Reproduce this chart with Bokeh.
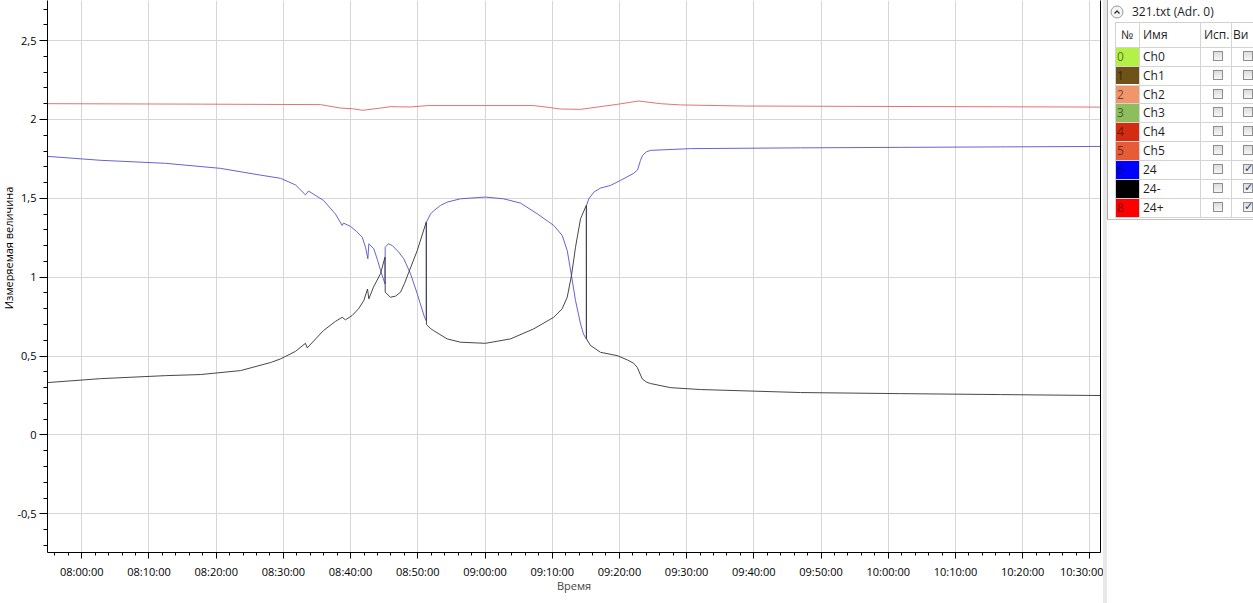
import pandas as pd
from bokeh.plotting import figure
from bokeh.models import (FixedTicker, DatetimeTickFormatter, CustomJSTickFormatter,
                          Range1d, LinearAxis, Div, ColumnDataSource)
from bokeh.layouts import row
from bokeh.embed import file_html
from bokeh.resources import INLINE

DAY = "2020-01-01 "

# ---- series "24" (blue) ----
blue_time = ["07:54:54", "08:02:47", "08:12:27", "08:20:38", "08:26:36", "08:29:34", "08:31:48",
             "08:33:17", "08:33:44", "08:35:58", "08:37:45", "08:38:45", "08:38:57", "08:39:59",
             "08:40:53", "08:41:44", "08:42:13", "08:42:34", "08:42:43", "08:43:27", "08:44:00",
             "08:44:27", "08:45:07", "08:45:09", "08:45:38", "08:46:14", "08:47:08", "08:47:55",
             "08:48:55", "08:49:55", "08:51:00", "08:51:15", "08:51:17", "08:51:53", "08:52:20",
             "08:53:23", "08:54:22", "08:56:21", "09:00:04", "09:02:45", "09:05:17", "09:07:46",
             "09:10:14", "09:11:29", "09:12:14", "09:12:52", "09:13:28", "09:14:13", "09:14:39",
             "09:15:04", "09:15:06", "09:15:27", "09:16:11", "09:17:11", "09:18:41", "09:20:10",
             "09:22:06", "09:22:42", "09:23:08", "09:23:26", "09:24:02", "09:24:38", "09:30:35",
             "09:46:57", "10:01:50", "10:16:43", "10:31:36"]
blue_value = [1.766, 1.741, 1.722, 1.690, 1.647, 1.627, 1.585,
              1.522, 1.546, 1.487, 1.400, 1.328, 1.343, 1.322,
              1.290, 1.254, 1.190, 1.117, 1.212, 1.180, 1.110,
              1.043, 0.958, 1.190, 1.212, 1.200, 1.160, 1.117,
              1.022, 0.895, 0.746, 0.725, 1.349, 1.400, 1.420,
              1.455, 1.476, 1.497, 1.508, 1.497, 1.470, 1.402,
              1.328, 1.265, 1.169, 1.011, 0.852, 0.704, 0.640,
              0.609, 1.455, 1.497, 1.539, 1.565, 1.582, 1.614,
              1.658, 1.680, 1.740, 1.772, 1.795, 1.804, 1.815,
              1.820, 1.823, 1.826, 1.829]

# ---- series "24-" (black) ----
black_time = ["07:54:54", "08:02:47", "08:12:27", "08:17:40", "08:23:37", "08:28:05", "08:29:34",
              "08:31:48", "08:33:17", "08:33:33", "08:35:58", "08:37:45", "08:38:45", "08:39:14",
              "08:40:14", "08:41:11", "08:41:58", "08:42:31", "08:42:43", "08:43:24", "08:44:27",
              "08:45:07", "08:45:09", "08:45:56", "08:46:41", "08:47:26", "08:48:01", "08:48:40",
              "08:49:55", "08:51:15", "08:51:17", "08:51:53", "08:52:20", "08:54:22", "08:56:21",
              "09:00:04", "09:03:48", "09:07:16", "09:10:14", "09:11:29", "09:12:14", "09:12:52",
              "09:13:28", "09:14:13", "09:15:04", "09:15:06", "09:15:42", "09:17:11", "09:19:40",
              "09:21:10", "09:22:06", "09:22:39", "09:23:24", "09:24:02", "09:24:38", "09:27:36",
              "09:32:04", "09:46:57", "10:01:50", "10:16:43", "10:31:36"]
black_value = [0.332, 0.357, 0.376, 0.383, 0.408, 0.459, 0.482,
               0.530, 0.581, 0.552, 0.662, 0.720, 0.746, 0.730,
               0.757, 0.800, 0.852, 0.925, 0.863, 0.937, 1.022,
               1.127, 0.905, 0.873, 0.880, 0.905, 0.960, 1.032,
               1.169, 1.349, 0.700, 0.675, 0.662, 0.609, 0.588,
               0.581, 0.609, 0.673, 0.746, 0.800, 0.873, 1.011,
               1.190, 1.371, 1.455, 0.609, 0.567, 0.524, 0.503,
               0.476, 0.455, 0.429, 0.355, 0.335, 0.326, 0.300,
               0.288, 0.269, 0.262, 0.256, 0.250]

# ---- series "24+" (red) ----
red_time = ["07:54:54", "08:17:40", "08:35:31", "08:38:30", "08:40:17", "08:41:46", "08:44:27",
            "08:45:56", "08:48:55", "08:51:27", "09:07:13", "09:09:45", "09:11:14", "09:14:13",
            "09:19:43", "09:22:51", "09:26:07", "09:29:06", "09:38:46", "10:01:50", "10:27:52",
            "10:31:36"]
red_value = [2.100, 2.097, 2.094, 2.072, 2.068, 2.058, 2.072,
             2.081, 2.079, 2.088, 2.088, 2.075, 2.066, 2.064,
             2.096, 2.117, 2.100, 2.092, 2.085, 2.082, 2.079,
             2.078]

x_tick_times = ["08:00:00", "08:10:00", "08:20:00", "08:30:00", "08:40:00", "08:50:00",
                "09:00:00", "09:10:00", "09:20:00", "09:30:00", "09:40:00", "09:50:00",
                "10:00:00", "10:10:00", "10:20:00", "10:30:00"]
y_ticks = [-0.5, 0, 0.5, 1, 1.5, 2, 2.5]

x_label = "Время"
y_label = "Измеряемая величина"

channel_nums = ["0", "1", "2", "3", "4", "5", "6", "7", "8"]
channel_names = ["Ch0", "Ch1", "Ch2", "Ch3", "Ch4", "Ch5", "24", "24-", "24+"]
channel_colors = ["#b4f046", "#6e5218", "#f0956c", "#8dbd5c", "#d32c12", "#e65c36",
                  "#0000ff", "#000000", "#ff0000"]
channel_visible = [False, False, False, False, False, False, True, True, True]
panel_title = "321.txt (Adr. 0)"
col_headers = ["№", "Имя", "Исп.", "Ви"]


def ts(s):
    return pd.Timestamp(DAY + s)


def ms(s):
    return ts(s).value // 10**6


FONT = "Open Sans"

p = figure(width=1089, height=603, x_axis_type="datetime",
           x_range=Range1d(ts("07:54:54"), ts("10:31:35")),
           y_range=Range1d(-0.745, 2.754),
           output_backend="svg", toolbar_location=None,
           min_border_left=33, min_border_right=3, min_border_top=0, min_border_bottom=51)
p.outline_line_color = None
p.background_fill_color = "white"
p.border_fill_color = "white"

major_x = [ms(t) for t in x_tick_times]
minor_x = [m + k * 120000 for m in [ms("07:50:00")] + major_x for k in range(1, 5)]
p.xaxis.ticker = FixedTicker(ticks=major_x, minor_ticks=minor_x)
fmt = "%H:%M:%S"
p.xaxis.formatter = DatetimeTickFormatter(milliseconds=fmt, seconds=fmt, minsec=fmt, minutes=fmt,
                                          hourmin=fmt, hours=fmt, days=fmt, months=fmt, years=fmt)
minor_y = [round(-0.8 + 0.1 * i, 2) for i in range(37)]
p.yaxis.ticker = FixedTicker(ticks=y_ticks, minor_ticks=minor_y)
p.yaxis.formatter = CustomJSTickFormatter(code="return String(tick).replace('.', ',');")

for ax in (p.xaxis[0], p.yaxis[0]):
    ax.axis_line_color = "black"
    ax.major_tick_line_color = "black"
    ax.minor_tick_line_color = "black"
    ax.major_tick_in = 0
    ax.minor_tick_in = 0
    ax.major_label_text_font = FONT
    ax.major_label_text_font_size = "11px"
    ax.major_label_text_color = "black"

p.xaxis.major_tick_out = 6
p.xaxis.minor_tick_out = 3
p.xaxis.major_label_standoff = 5
p.xaxis.axis_label = x_label
p.xaxis.axis_label_text_font = FONT
p.xaxis.axis_label_text_font_size = "11px"
p.xaxis.axis_label_text_font_style = "normal"
p.xaxis.axis_label_standoff = -4

p.yaxis.major_tick_out = 8
p.yaxis.minor_tick_out = 4
p.yaxis.major_label_standoff = 3

right_axis = LinearAxis(ticker=FixedTicker(ticks=[]), major_tick_out=0, major_tick_in=0,
                        minor_tick_out=0, minor_tick_in=0, major_label_standoff=0,
                        major_label_text_font_size="0px", axis_line_color="black")
p.add_layout(right_axis, "right")

p.xgrid.grid_line_color = "#d6d6d6"
p.ygrid.grid_line_color = "#d6d6d6"

red_src = ColumnDataSource(dict(t=[ts(s) for s in red_time], v=red_value))
blue_src = ColumnDataSource(dict(t=[ts(s) for s in blue_time], v=blue_value))
black_src = ColumnDataSource(dict(t=[ts(s) for s in black_time], v=black_value))
p.line("t", "v", source=red_src, line_color="#dd5a5a", line_alpha=0.85, line_width=1)
p.line("t", "v", source=blue_src, line_color="#5252d2", line_alpha=0.9, line_width=1)
p.line("t", "v", source=black_src, line_color="#333333", line_alpha=0.9, line_width=1)

# ---- y axis title (separate narrow column, rotated text) ----
ylab = Div(text=('<div style="position:relative;width:14px;height:603px;overflow:visible;'
                 'font-family:\'Open Sans\',sans-serif;font-size:11px;color:black;">'
                 '<div style="position:absolute;left:9px;top:248px;white-space:nowrap;'
                 'transform:translate(-50%%,-50%%) rotate(-90deg);">%s</div></div>') % y_label,
           width=14, height=603, margin=0)

# ---- side panel (channel table) ----
table_top = 22
row_top0 = 46.7
row_h = 18.9
cols = [12, 36.3, 97, 127.7, 170]
parts = []
parts.append('<div style="position:relative;width:150px;height:603px;overflow:hidden;'
             'background:white;font-family:\'Open Sans\',sans-serif;font-size:12px;color:#1e1e1e;">')
parts.append('<div style="position:absolute;left:0;top:0;width:4px;height:603px;background:#e8e8e8;"></div>')
parts.append('<div style="position:absolute;left:4px;top:0;width:1px;height:219px;background:#a8a8a8;"></div>')
parts.append('<svg style="position:absolute;left:7px;top:5px" width="14" height="14">'
             '<circle cx="7" cy="7" r="6" fill="#f4f4f4" stroke="#9a9a9a" stroke-width="1"/>'
             '<polyline points="4.5,8.5 7,6 9.5,8.5" fill="none" stroke="#333" stroke-width="1.3"/></svg>')
parts.append('<div style="position:absolute;left:29px;top:3px;line-height:18px;">%s</div>' % panel_title)
parts.append('<div style="position:absolute;left:%dpx;top:%dpx;width:200px;height:1px;background:#d0d0d0;"></div>'
             % (cols[0], table_top))
for i in range(10):
    y = row_top0 + row_h * i
    parts.append('<div style="position:absolute;left:%.1fpx;top:%.1fpx;width:200px;height:1px;background:#d4d4d4;"></div>'
                 % (cols[0], y))
for cx in cols[:4]:
    parts.append('<div style="position:absolute;left:%.1fpx;top:%dpx;width:1px;height:%.1fpx;background:#d4d4d4;"></div>'
                 % (cx, table_top, row_top0 + row_h * 9 - table_top))
hx = [18, 40, 101, 130]
for h, x in zip(col_headers, hx):
    parts.append('<div style="position:absolute;left:%dpx;top:26px;line-height:18px;">%s</div>' % (x, h))
for i, (n, name, c, vis) in enumerate(zip(channel_nums, channel_names, channel_colors, channel_visible)):
    top = row_top0 + row_h * i + 1
    parts.append('<div style="position:absolute;left:%.1fpx;top:%.1fpx;width:%.1fpx;height:%.1fpx;background:%s;"></div>'
                 % (cols[0] + 1, top, cols[1] - cols[0] - 1, row_h - 1, c))
    parts.append('<div style="position:absolute;left:%.1fpx;top:%.1fpx;line-height:%.1fpx;color:rgba(0,0,0,0.55);">%s</div>'
                 % (cols[0] + 2, top, row_h - 1, n))
    parts.append('<div style="position:absolute;left:40px;top:%.1fpx;line-height:%.1fpx;">%s</div>'
                 % (top, row_h - 1, name))
    for bx, checked in ((110, False), (140, vis)):
        parts.append('<div style="position:absolute;left:%dpx;top:%.1fpx;width:10px;height:10px;border:1px solid #8e8e8e;'
                     'background:linear-gradient(#dcdcdc,#f6f6f6);"></div>' % (bx, top + 3))
        if checked:
            parts.append('<div style="position:absolute;left:%dpx;top:%.1fpx;line-height:14px;font-size:11px;'
                         'font-weight:bold;color:#283c8c;font-family:\'DejaVu Sans\';">&#10003;</div>'
                         % (bx + 1, top + 1))
parts.append('<div style="position:absolute;left:4px;top:%.1fpx;width:200px;height:1px;background:#c0c0c0;"></div>'
             % (row_top0 + row_h * 9 + 2))
parts.append('</div>')

panel = Div(text="".join(parts), width=150, height=603, margin=0)

layout = row(ylab, p, panel)
open("out.html", "w").write(file_html(layout, INLINE))
